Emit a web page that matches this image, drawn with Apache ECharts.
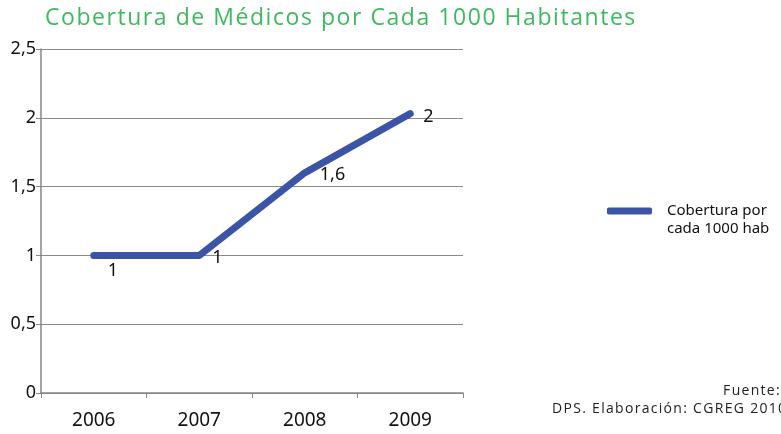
<!DOCTYPE html>
<html>
<head>
<meta charset="utf-8">
<script src="https://cdn.jsdelivr.net/npm/echarts@6/dist/echarts.min.js"></script>
<style>
html, body { margin: 0; padding: 0; background: #fff; overflow: hidden; }
#wrap { position: relative; width: 781px; height: 434px; overflow: hidden; }
#chart { width: 781px; height: 434px; }
.txt { position: absolute; white-space: nowrap; font-family: 'Open Sans', sans-serif; }
#title { left: 45px; top: 5px; font-size: 23px; line-height: 23px; color: #3dba5e; letter-spacing: 1.55px; }
.src { font-size: 14px; line-height: 14px; color: #222; letter-spacing: 1.3px; }
#src1 { right: 0px; top: 383px; }
#src2 { left: 552px; top: 401px; }
</style>
</head>
<body>
<div id="wrap">
<div id="chart"></div>
<div id="title" class="txt"></div>
<div id="src1" class="txt src"></div>
<div id="src2" class="txt src"></div>
</div>
<script>
var years = ['2006', '2007', '2008', '2009'];
var cobertura = [1, 1, 1.6, 2.03];
var yTicks = ['0', '0,5', '1', '1,5', '2', '2,5'];
var seriesName = 'Cobertura por\ncada 1000 hab';
var titleText = 'Cobertura de Médicos por Cada 1000 Habitantes';
var sourceLines = ['Fuente:', 'DPS. Elaboración: CGREG 2010'];

// where each value label sits next to its point (dx, dy)
var labelOffsets = [[14, 15], [13, 2], [15, 2], [13, 3]];

document.getElementById('title').textContent = titleText;
document.getElementById('src1').textContent = sourceLines[0];
document.getElementById('src2').textContent = sourceLines[1];

var echart = echarts.init(document.getElementById('chart'));

var seriesData = cobertura.map(function (v, i) {
    return {
        value: v,
        label: { offset: labelOffsets[i] }
    };
});

var option = {
    animation: false,
    legend: {
        data: [seriesName],
        left: 602,
        top: 179,
        icon: 'roundRect',
        itemWidth: 45,
        itemHeight: 7,
        // blank first line so the icon lines up with the first text line
        formatter: function (name) {
            return ' \n' + name;
        },
        textStyle: {
            fontFamily: 'Noto Sans',
            fontSize: 15,
            color: '#111',
            lineHeight: 18,
            padding: [0, 0, 0, 10]
        }
    },
    grid: {
        left: 41,
        top: 49,
        width: 422,
        height: 344
    },
    xAxis: {
        type: 'category',
        data: years,
        boundaryGap: true,
        axisLine: { lineStyle: { color: '#868686', width: 1.5 } },
        axisTick: { show: true, length: 5, lineStyle: { color: '#868686' } },
        axisLabel: {
            fontFamily: 'Noto Sans',
            fontSize: 19,
            color: '#111',
            margin: 18
        }
    },
    yAxis: {
        type: 'value',
        min: 0,
        max: 2.5,
        interval: 0.5,
        axisLine: { show: true, lineStyle: { color: '#868686', width: 1.5 } },
        axisTick: { show: true, length: 5, lineStyle: { color: '#868686' } },
        splitLine: { lineStyle: { color: '#8a8a8a', width: 1 } },
        axisLabel: {
            fontFamily: 'Noto Sans',
            fontSize: 18,
            color: '#111',
            margin: 5,
            formatter: function (v) {
                return yTicks[Math.round(v / 0.5)];
            }
        }
    },
    series: [
        {
            name: seriesName,
            type: 'line',
            data: seriesData,
            symbol: 'circle',
            symbolSize: 0.1,
            itemStyle: { color: '#3b54a5' },
            lineStyle: {
                color: '#3b54a5',
                width: 7,
                cap: 'round',
                join: 'round'
            },
            label: {
                show: true,
                position: 'right',
                distance: 0,
                fontFamily: 'Noto Sans',
                fontSize: 18,
                color: '#111',
                formatter: function (p) {
                    return String(Math.round(p.value * 10) / 10).replace('.', ',');
                }
            }
        }
    ]
};
echart.setOption(option);
</script>
</body>
</html>
